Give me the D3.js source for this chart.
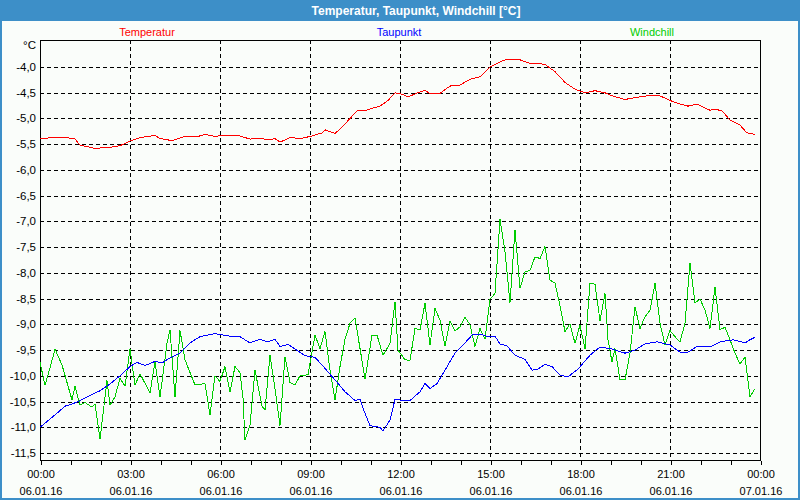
<!DOCTYPE html>
<html>
<head>
<meta charset="utf-8">
<script src="https://cdn.jsdelivr.net/npm/d3@7/dist/d3.min.js"></script>
<style>
  html, body { margin: 0; padding: 0; background: #fafdfa; }
  svg { display: block; }
  text { font-family: "Liberation Sans", Arial, sans-serif; }
</style>
</head>
<body>
<script>
// ---- Data (minutes after 00:00 on 06.01.16, values in °C) ----
const chartTitle = "Temperatur, Taupunkt, Windchill [°C]";
const seriesNames = ["Temperatur", "Taupunkt", "Windchill"];
const seriesColors = ["#ff0000", "#0000ff", "#00cc00"];

const yTicks = [-4.0, -4.5, -5.0, -5.5, -6.0, -6.5, -7.0, -7.5, -8.0, -8.5, -9.0, -9.5, -10.0, -10.5, -11.0, -11.5];
const xTickHours = [0, 3, 6, 9, 12, 15, 18, 21, 24];
const xTickTimes = ["00:00", "03:00", "06:00", "09:00", "12:00", "15:00", "18:00", "21:00", "00:00"];
const xTickDates = ["06.01.16", "06.01.16", "06.01.16", "06.01.16", "06.01.16", "06.01.16", "06.01.16", "06.01.16", "07.01.16"];

const tempMinutes = [0, 46, 70, 80, 110, 140, 160, 180, 200, 230, 240, 264, 286, 320, 330, 350, 364, 400, 420, 444, 454, 470, 480, 500, 520, 540, 564, 570, 590, 600, 620, 634, 650, 664, 680, 696, 710, 724, 736, 756, 770, 780, 800, 820, 840, 860, 880, 900, 920, 934, 960, 980, 994, 1010, 1030, 1050, 1070, 1090, 1110, 1130, 1144, 1170, 1200, 1220, 1240, 1260, 1280, 1296, 1314, 1340, 1350, 1364, 1380, 1400, 1414, 1430];
const tempValues = [-5.39, -5.36, -5.40, -5.52, -5.58, -5.56, -5.53, -5.44, -5.37, -5.33, -5.39, -5.43, -5.36, -5.34, -5.31, -5.35, -5.33, -5.34, -5.40, -5.38, -5.42, -5.39, -5.46, -5.37, -5.39, -5.35, -5.28, -5.22, -5.29, -5.21, -5.00, -4.85, -4.85, -4.80, -4.76, -4.65, -4.50, -4.53, -4.58, -4.50, -4.45, -4.52, -4.51, -4.37, -4.35, -4.24, -4.19, -4.00, -3.90, -3.85, -3.86, -3.93, -3.93, -3.95, -4.09, -4.30, -4.43, -4.50, -4.46, -4.50, -4.56, -4.63, -4.58, -4.55, -4.56, -4.65, -4.72, -4.76, -4.72, -4.84, -4.82, -4.85, -5.03, -5.13, -5.28, -5.31];

const dewMinutes = [0, 30, 50, 64, 80, 120, 140, 160, 180, 194, 210, 230, 244, 260, 280, 300, 320, 350, 380, 400, 420, 440, 454, 470, 480, 496, 510, 530, 550, 564, 590, 610, 630, 640, 650, 660, 680, 686, 700, 710, 720, 740, 760, 770, 780, 794, 810, 830, 850, 866, 880, 894, 910, 920, 934, 950, 970, 984, 994, 1010, 1024, 1040, 1056, 1076, 1100, 1120, 1144, 1170, 1190, 1210, 1234, 1260, 1280, 1296, 1314, 1340, 1360, 1386, 1410, 1420, 1430];
const dewValues = [-11.00, -10.76, -10.59, -10.55, -10.48, -10.29, -10.16, -10.00, -9.82, -9.74, -9.80, -9.72, -9.75, -9.65, -9.56, -9.36, -9.24, -9.18, -9.23, -9.24, -9.36, -9.29, -9.34, -9.29, -9.43, -9.39, -9.48, -9.61, -9.64, -9.79, -10.08, -10.31, -10.48, -10.46, -10.73, -10.97, -11.00, -11.07, -10.86, -10.46, -10.47, -10.48, -10.31, -10.15, -10.25, -10.15, -9.89, -9.56, -9.36, -9.19, -9.19, -9.23, -9.23, -9.38, -9.42, -9.60, -9.68, -9.89, -9.88, -9.78, -9.82, -9.99, -10.02, -9.87, -9.60, -9.44, -9.48, -9.56, -9.50, -9.38, -9.34, -9.40, -9.54, -9.54, -9.43, -9.44, -9.34, -9.30, -9.36, -9.30, -9.25];

const chillMinutes = [0, 10, 20, 30, 44, 64, 70, 80, 90, 104, 110, 120, 134, 140, 150, 160, 170, 180, 190, 200, 220, 230, 240, 254, 260, 270, 280, 290, 310, 330, 340, 350, 360, 370, 380, 390, 400, 406, 410, 420, 430, 444, 450, 460, 470, 480, 490, 500, 510, 520, 536, 550, 560, 570, 580, 590, 600, 610, 620, 630, 646, 650, 664, 674, 686, 700, 710, 716, 730, 740, 750, 760, 770, 780, 790, 800, 810, 820, 830, 840, 850, 860, 870, 880, 890, 900, 910, 920, 930, 940, 950, 960, 970, 980, 990, 1000, 1010, 1020, 1030, 1040, 1050, 1060, 1070, 1080, 1090, 1100, 1110, 1120, 1130, 1136, 1144, 1150, 1160, 1170, 1180, 1190, 1200, 1210, 1220, 1230, 1240, 1250, 1260, 1270, 1280, 1290, 1300, 1310, 1320, 1330, 1340, 1350, 1360, 1370, 1380, 1390, 1400, 1410, 1420, 1430];
const chillValues = [-9.74, -10.18, -9.85, -9.48, -9.79, -10.47, -10.20, -10.57, -10.52, -10.61, -10.55, -11.23, -10.09, -10.57, -10.41, -10.05, -10.20, -9.48, -10.18, -9.96, -10.33, -9.73, -10.41, -9.37, -9.11, -10.41, -9.12, -9.69, -10.18, -10.15, -10.76, -10.00, -10.11, -9.82, -10.31, -9.82, -9.94, -10.43, -11.25, -10.96, -9.89, -10.59, -10.66, -9.60, -10.25, -10.97, -9.63, -10.13, -10.18, -10.00, -9.98, -9.21, -9.47, -9.14, -9.89, -10.47, -9.82, -9.29, -8.98, -8.88, -9.82, -10.07, -9.21, -9.21, -9.60, -9.37, -8.56, -9.50, -9.69, -9.70, -9.08, -9.11, -8.59, -9.40, -8.69, -8.92, -9.42, -8.93, -9.13, -9.05, -8.86, -9.01, -9.43, -9.08, -9.29, -8.51, -8.40, -6.96, -7.59, -8.58, -7.16, -8.30, -7.98, -7.95, -7.69, -7.72, -7.49, -8.14, -8.20, -8.64, -9.14, -8.99, -9.37, -9.01, -9.48, -8.20, -8.22, -8.93, -8.40, -9.30, -9.73, -9.47, -10.08, -10.08, -9.56, -8.66, -9.08, -8.85, -8.73, -8.20, -8.98, -9.40, -9.12, -9.24, -9.34, -8.98, -7.81, -8.58, -8.51, -8.72, -9.08, -8.28, -9.10, -9.06, -9.30, -9.56, -9.77, -9.64, -10.41, -10.25];

// ---- Layout ----
const W = 800, H = 500;
const plot = { left: 40, right: 760, top: 40, bottom: 460 };
const BLUE = "#3d8fc8";

const svg = d3.select("body").append("svg").attr("width", W).attr("height", H);

// background + frame
svg.append("rect").attr("x", 0).attr("y", 0).attr("width", W).attr("height", H).attr("fill", "#fafdfa");
svg.append("rect").attr("x", 0).attr("y", 0).attr("width", W).attr("height", 21).attr("fill", BLUE);
svg.append("rect").attr("x", 1).attr("y", 1).attr("width", W - 2).attr("height", H - 2)
  .attr("fill", "none").attr("stroke", BLUE).attr("stroke-width", 2);

svg.append("text").attr("x", 416).attr("y", 15).attr("text-anchor", "middle")
  .attr("fill", "#ffffff").attr("font-weight", "bold").attr("font-size", "12px").text(chartTitle);

// scales
const t0 = new Date(2016, 0, 6, 0, 0);
const toDate = m => new Date(t0.getTime() + m * 60000);
const x = d3.scaleTime().domain([t0, toDate(24 * 60)]).range([plot.left, plot.right]);
const y = d3.scaleLinear().domain([-11.636, -3.475]).range([plot.bottom, plot.top]);

// grid
const g = svg.append("g").attr("shape-rendering", "crispEdges");
g.selectAll("line.hg").data(yTicks).join("line")
  .attr("x1", plot.left).attr("x2", plot.right)
  .attr("y1", d => Math.round(y(d)) + 0.5).attr("y2", d => Math.round(y(d)) + 0.5)
  .attr("stroke", "#000").attr("stroke-dasharray", "4,3");
g.selectAll("line.vg").data(xTickHours.slice(1, -1)).join("line")
  .attr("x1", d => Math.round(x(toDate(d * 60))) + 0.5).attr("x2", d => Math.round(x(toDate(d * 60))) + 0.5)
  .attr("y1", plot.top).attr("y2", plot.bottom)
  .attr("stroke", "#000").attr("stroke-dasharray", "4,3");

// hourly ticks on bottom axis
const xAxis = d3.axisBottom(x).ticks(d3.timeHour.every(1)).tickSize(4).tickFormat("");
const xa = svg.append("g").attr("transform", `translate(0.5,${plot.bottom + 0.5})`)
  .attr("shape-rendering", "crispEdges").call(xAxis);
xa.select(".domain").remove();
xa.selectAll(".tick line").attr("stroke", "#000");

// plot border
svg.append("rect").attr("x", plot.left + 0.5).attr("y", plot.top + 0.5)
  .attr("width", plot.right - plot.left).attr("height", plot.bottom - plot.top)
  .attr("fill", "none").attr("stroke", "#000").attr("shape-rendering", "crispEdges");

// y labels
const fmt = v => d3.format(".1f")(v).replace(".", ",").replace("−", "-");
svg.append("g").selectAll("text").data(yTicks).join("text")
  .attr("x", 36).attr("y", d => y(d) + 4).attr("text-anchor", "end")
  .attr("font-size", "11.5px").attr("fill", "#000").text(fmt);
svg.append("text").attr("x", 36).attr("y", 49).attr("text-anchor", "end")
  .attr("font-size", "11.5px").attr("fill", "#000").text("°C");

// x labels
svg.append("g").selectAll("text").data(xTickHours).join("text")
  .attr("x", d => x(toDate(d * 60)) + 1).attr("y", 478).attr("text-anchor", "middle")
  .attr("font-size", "11px").attr("fill", "#000").text((d, i) => xTickTimes[i]);
svg.append("g").selectAll("text").data(xTickHours).join("text")
  .attr("x", d => x(toDate(d * 60)) + 1).attr("y", 495).attr("text-anchor", "middle")
  .attr("font-size", "11px").attr("fill", "#000").text((d, i) => xTickDates[i]);

// legend
const legendX = [147, 399, 652];
svg.append("g").selectAll("text").data(seriesNames).join("text")
  .attr("x", (d, i) => legendX[i]).attr("y", 36).attr("text-anchor", "middle")
  .attr("font-size", "11px").attr("fill", (d, i) => seriesColors[i]).text(d => d);

// lines
const series = [
  { m: tempMinutes, v: tempValues, c: seriesColors[0] },
  { m: dewMinutes, v: dewValues, c: seriesColors[1] },
  { m: chillMinutes, v: chillValues, c: seriesColors[2] }
];
const line = d3.line().x(d => x(toDate(d[0]))).y(d => y(d[1]));
const lg = svg.append("g");
// draw windchill first, then dew point, then temperature
[2, 1, 0].forEach(i => {
  const s = series[i];
  lg.append("path").datum(s.m.map((mm, k) => [mm, s.v[k]]))
    .attr("d", line).attr("fill", "none").attr("stroke", s.c).attr("stroke-width", 1)
    .attr("shape-rendering", "crispEdges");
});
</script>
</body>
</html>
